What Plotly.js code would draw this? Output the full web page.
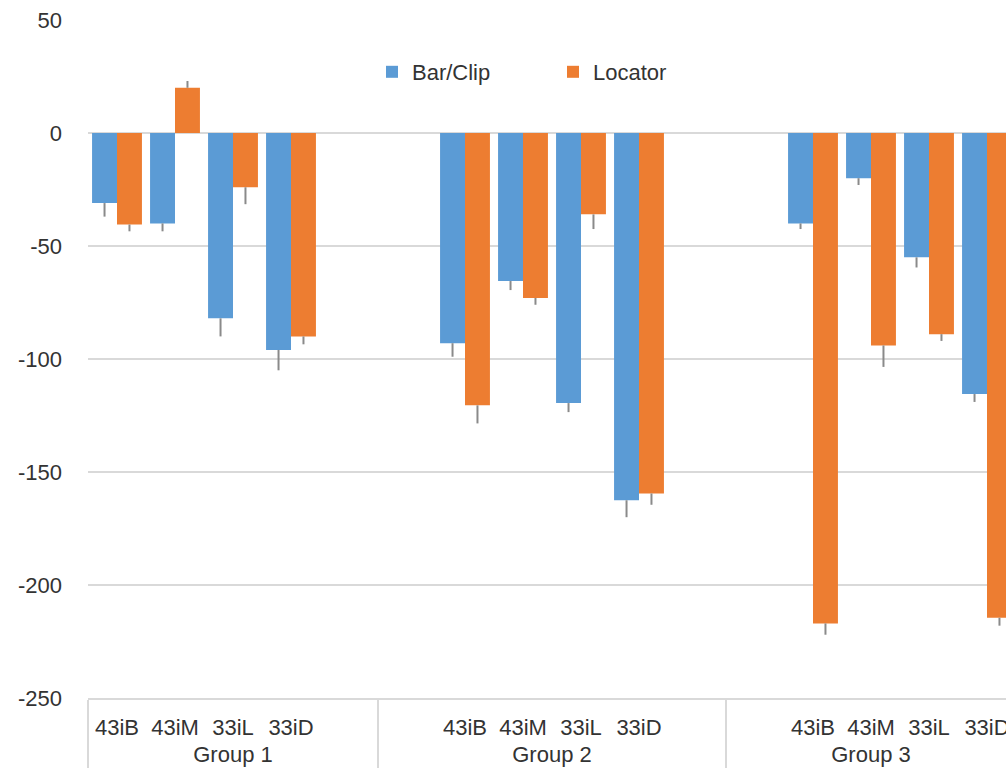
<!DOCTYPE html>
<html>
<head>
<meta charset="utf-8">
<script src="https://cdn.plot.ly/plotly-3.0.1.min.js"></script>
<style>
html, body { margin: 0; padding: 0; overflow: hidden; background: #fff; }
#chart { width: 1016px; height: 781px; }
</style>
</head>
<body>
<div id="chart"></div>
<script>
// ---- data ----
const groups = ["Group 1", "Group 2", "Group 3"];
const subcats = ["43iB", "43iM", "33iL", "33iD"];

const barClipG1 = [-31, -40, -82, -96];
const barClipG2 = [-93, -65.5, -119.5, -162.5];
const barClipG3 = [-40, -20, -55, -115.5];
const barClipErrG1 = [6, 3.5, 8, 9];
const barClipErrG2 = [6, 4, 4, 7.5];
const barClipErrG3 = [2.5, 3, 4.5, 3.5];

const locatorG1 = [-40.5, 20, -24, -90];
const locatorG2 = [-120.5, -73, -36, -159.5];
const locatorG3 = [-217, -94, -89, -214.5];
const locatorErrG1 = [3, 3, 7.5, 3.5];
const locatorErrG2 = [8, 3, 6.5, 5];
const locatorErrG3 = [5, 9.5, 3, 3.5];

const yTickVals = [50, 0, -50, -100, -150, -200, -250];
const yTickText = ["50", "0", "-50", "-100", "-150", "-200", "-250"];

// blank spacer categories between groups (as in the original chart).
// Plotly orders inner categories by first appearance, so groups 2 and 3 use
// the same labels with an invisible zero-width suffix to let their leading
// spacer come first.
const ZW = "\u200b";
const padBefore = [[], [" "], [" "]];
const padAfter = [["  "], ["   "], []];
const labelSuffix = ["", ZW, ZW];

function build(vals, errs) {
  const xg = [], xs = [], y = [], ep = [], em = [];
  vals.forEach((gv, gi) => {
    const ge = errs[gi];
    padBefore[gi].forEach(p => { xg.push(groups[gi]); xs.push(p); y.push(null); ep.push(0); em.push(0); });
    subcats.forEach((c, ci) => {
      xg.push(groups[gi]); xs.push(c + labelSuffix[gi]); y.push(gv[ci]);
      if (gv[ci] < 0) { ep.push(0); em.push(ge[ci]); } else { ep.push(ge[ci]); em.push(0); }
    });
    padAfter[gi].forEach(p => { xg.push(groups[gi]); xs.push(p); y.push(null); ep.push(0); em.push(0); });
  });
  return { x: [xg, xs], y, ep, em };
}

const b = build([barClipG1, barClipG2, barClipG3], [barClipErrG1, barClipErrG2, barClipErrG3]);
const l = build([locatorG1, locatorG2, locatorG3], [locatorErrG1, locatorErrG2, locatorErrG3]);

const errStyle = { color: "#8a8a8a", thickness: 2, width: 0 };

const traces = [
  {
    type: "bar", name: "Bar/Clip", x: b.x, y: b.y,
    marker: { color: "#5B9BD5" },
    error_y: Object.assign({ type: "data", symmetric: false, array: b.ep, arrayminus: b.em }, errStyle)
  },
  {
    type: "bar", name: "Locator", x: l.x, y: l.y,
    marker: { color: "#ED7D31" },
    error_y: Object.assign({ type: "data", symmetric: false, array: l.ep, arrayminus: l.em }, errStyle)
  }
];

const font = { family: "Liberation Sans, Arial, sans-serif", size: 22, color: "#333333" };

const layout = {
  width: 1016, height: 781,
  margin: { l: 88, r: 0, t: 20, b: 83 },
  paper_bgcolor: "#ffffff", plot_bgcolor: "#ffffff",
  font: font,
  barmode: "group", bargap: 0.14, bargroupgap: 0,
  showlegend: true,
  legend: {
    orientation: "h", x: (372 - 88) / 928, xanchor: "left",
    y: (698 - 72) / 678, yanchor: "middle",
    font: font, entrywidth: 136, bgcolor: "rgba(0,0,0,0)"
  },
  xaxis: {
    type: "multicategory",
    showline: true, linecolor: "#D9D9D9", linewidth: 1.5,
    showgrid: false, ticks: "outside", tickson: "labels", ticklen: 9, tickcolor: "rgba(0,0,0,0)",
    showdividers: true, dividercolor: "#D9D9D9", dividerwidth: 1.5,
    tickfont: font, fixedrange: true
  },
  yaxis: {
    range: [-250, 50],
    tickmode: "array", tickvals: yTickVals, ticktext: yTickText,
    showgrid: true, gridcolor: "#D9D9D9", gridwidth: 1.5,
    zeroline: true, zerolinecolor: "#D9D9D9", zerolinewidth: 1.5,
    showline: false, ticks: "", ticklabelstandoff: 25,
    tickfont: font, fixedrange: true
  }
};

Plotly.newPlot("chart", traces, layout, { displayModeBar: false, staticPlot: true });
</script>
</body>
</html>
